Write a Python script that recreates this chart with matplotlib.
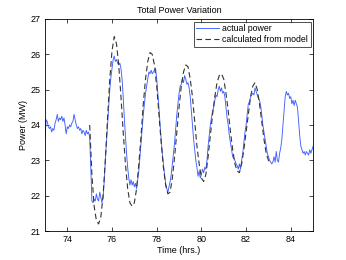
import numpy as np
import matplotlib
matplotlib.use('Agg')
import matplotlib.pyplot as plt

# actual power, sampled every 0.05 hr from 73.0 to 85.0
actual_t0 = 73.0
actual_mw = [
    # 73
    23.6, 24.15, 24.1, 23.95, 23.9, 23.95, 23.8, 23.9, 23.85, 24.05,
    24.15, 24.3, 24.1, 24.2, 24.15, 24.25, 24.1, 24.2, 24.0, 23.75,
    # 74
    23.95, 23.9, 24.0, 23.95, 24.05, 24.1, 24.3, 24.15, 24.0, 23.9,
    23.95, 23.85, 23.9, 23.75, 23.85, 23.8, 23.7, 23.85, 23.75, 23.8,
    # 75
    23.65, 22.8, 21.85, 21.8, 21.9, 21.85, 22.05, 21.9, 21.85, 22.1,
    21.95, 21.8, 21.95, 22.4, 23.0, 23.5, 24.0, 24.5, 25.0, 25.35,
    # 76
    25.6, 25.85, 25.95, 25.8, 25.85, 25.75, 25.7, 25.75, 25.6, 25.3,
    24.8, 24.2, 23.7, 23.2, 22.8, 22.5, 22.3, 22.45, 22.3, 22.4,
    # 77
    22.25, 22.35, 22.2, 22.45, 22.7, 23.1, 23.5, 23.9, 24.3, 24.6,
    24.9, 25.1, 25.3, 25.5, 25.45, 25.55, 25.45, 25.5, 25.55, 25.6,
    # 78
    25.3, 24.9, 24.5, 24.0, 23.6, 23.2, 22.9, 22.6, 22.35, 22.2,
    22.1, 22.25, 22.4, 22.6, 22.9, 23.2, 23.5, 23.9, 24.3, 24.6,
    # 79
    24.9, 25.1, 25.15, 25.3, 25.2, 25.4, 25.3, 25.15, 25.2, 25.05,
    24.8, 24.4, 24.0, 23.6, 23.3, 23.0, 22.8, 22.55, 22.7, 22.5,
    # 80
    22.6, 22.75, 22.65, 22.8, 22.75, 23.0, 23.4, 23.7, 24.0, 24.2,
    24.4, 24.5, 24.7, 24.85, 24.8, 25.0, 25.1, 24.95, 25.05, 24.9,
    # 81
    24.95, 24.8, 24.5, 24.2, 24.0, 23.7, 23.5, 23.3, 23.1, 23.05,
    23.0, 22.9, 22.85, 22.75, 22.9, 22.75, 23.0, 23.2, 23.5, 23.8,
    # 82
    24.0, 24.3, 24.6, 24.65, 24.8, 24.85, 24.9, 24.85, 25.05, 24.95,
    24.85, 24.75, 24.7, 24.55, 24.3, 24.0, 23.8, 23.6, 23.4, 23.2,
    # 83
    23.1, 23.0, 22.95, 22.9, 22.95, 23.1, 22.95, 23.25, 23.0, 22.95,
    23.2, 23.35, 23.6, 24.0, 24.4, 24.8, 24.95, 24.85, 24.9, 24.75,
    # 84
    24.8, 24.6, 24.7, 24.55, 24.7, 24.6, 24.5, 24.1, 23.7, 23.4,
    23.3, 23.2, 23.25, 23.15, 23.25, 23.2, 23.15, 23.3, 23.2, 23.3,
    # 85
    23.4,
]

# model output, every 0.1 hr from 75.0 to 83.1
model_t0 = 75.0
model_mw = [
    24.0, 22.6, 21.7, 21.3, 21.2, 21.4, 22.0, 23.0, 24.2, 25.3,
    26.1, 26.5, 26.3, 25.7, 24.8, 23.8, 22.9, 22.2, 21.8, 21.7,
    21.8, 22.2, 22.9, 23.7, 24.6, 25.3, 25.8, 26.05, 26.0, 25.7,
    25.1, 24.3, 23.5, 22.8, 22.3, 22.05, 22.1, 22.5, 23.1, 23.8,
    24.5, 25.1, 25.5, 25.7, 25.65, 25.3, 24.8, 24.1, 23.4, 22.9,
    22.5, 22.4, 22.6, 23.1, 23.7, 24.3, 24.8, 25.2, 25.4, 25.45,
    25.3, 24.9, 24.4, 23.8, 23.3, 22.9, 22.7, 22.65, 22.9, 23.3,
    23.8, 24.3, 24.8, 25.1, 25.2, 25.0, 24.6, 24.1, 23.6, 23.2,
    23.0, 22.9,
]

t_actual = actual_t0 + 0.05 * np.arange(len(actual_mw))
t_model = model_t0 + 0.1 * np.arange(len(model_mw))

plt.rcParams['font.family'] = ['Liberation Sans', 'DejaVu Sans']
plt.rcParams['font.size'] = 6.5

fig = plt.figure(figsize=(3.46, 2.6), dpi=100)
ax = fig.add_axes([0.130, 0.1115, 0.775, 0.8155])

ax.plot(t_actual, actual_mw, color='#4060ff', lw=0.65, label='actual power')
ax.plot(t_model, model_mw, color='#333333', lw=0.8, ls=(0, (5, 3)),
        label='calculated from model')

ax.set_xlim(73, 85)
ax.set_ylim(21, 27)
ax.set_xticks([74, 76, 78, 80, 82, 84])
ax.set_yticks([21, 22, 23, 24, 25, 26, 27])
ax.tick_params(direction='in', top=True, right=True, length=3, width=0.5, pad=3)
for s in ax.spines.values():
    s.set_linewidth(0.6)

ax.set_title('Total Power Variation', fontsize=6.5, pad=4)
ax.set_xlabel('Time (hrs.)', labelpad=1)
ax.set_ylabel('Power (MW)', labelpad=2)

leg = ax.legend(loc='upper right', fontsize=6.3, frameon=True, fancybox=False,
                edgecolor='black', borderaxespad=0.3, handlelength=2.6,
                borderpad=0.3, labelspacing=0.2, handletextpad=0.35)
leg.get_frame().set_linewidth(0.6)

fig.savefig('out.png', dpi=100)
